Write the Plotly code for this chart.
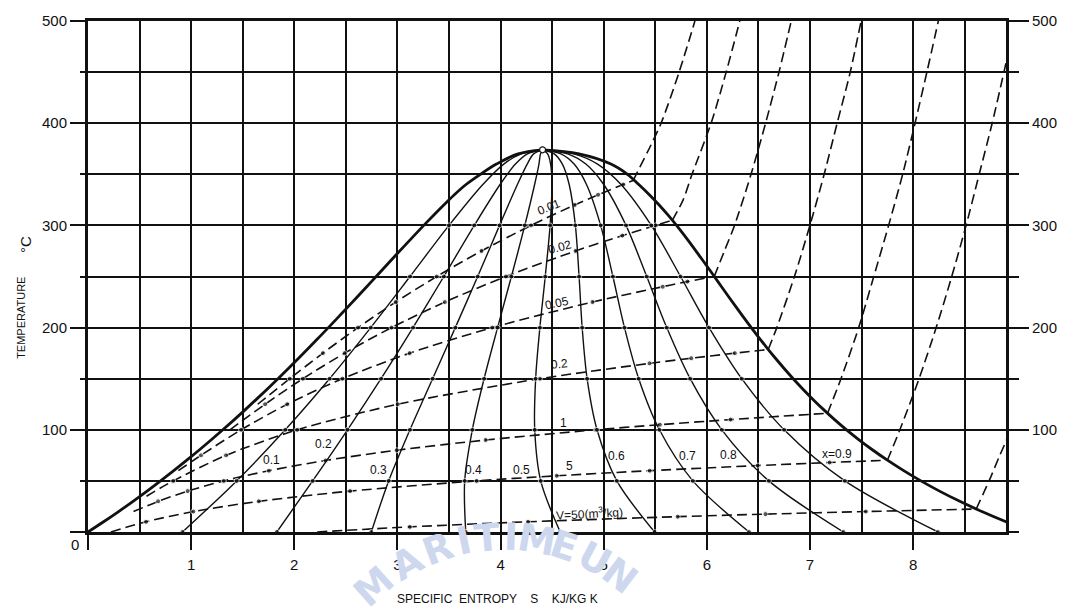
import math
import plotly.graph_objects as go

# ---------------- saturation dome (T in degC, s in kJ/kg K) ----------------
T_sat = [0.01, 10, 20, 30, 40, 50, 60, 70, 80, 90, 100, 110, 120, 130, 140, 150,
         160, 170, 180, 190, 200, 210, 220, 230, 240, 250, 260, 270, 280, 290,
         300, 310, 320, 330, 340, 350, 360, 370, 373.95]
s_liq = [0.0, 0.1511, 0.2965, 0.4368, 0.5724, 0.7038, 0.8313, 0.9551, 1.0756,
         1.1929, 1.3072, 1.4188, 1.5279, 1.6346, 1.7392, 1.8418, 1.9426, 2.0417,
         2.1392, 2.2355, 2.3305, 2.4245, 2.5177, 2.6101, 2.7020, 2.7935, 2.8849,
         2.9765, 3.0685, 3.1612, 3.2552, 3.3510, 3.4494, 3.5518, 3.6650, 3.8050,
         3.9600, 4.1700, 4.4070]
s_vap = [9.1555, 8.8998, 8.6661, 8.4520, 8.2555, 8.0748, 7.9081, 7.7540, 7.6111,
         7.4781, 7.3541, 7.2381, 7.1291, 7.0264, 6.9293, 6.8371, 6.7491, 6.6650,
         6.5840, 6.5059, 6.4302, 6.3563, 6.2840, 6.2128, 6.1423, 6.0721, 6.0016,
         5.9297, 5.8579, 5.7834, 5.7059, 5.6244, 5.5372, 5.4422, 5.3400, 5.2300,
         5.0700, 4.7600, 4.4070]

# ---------------- constant dryness fraction lines ----------------
T_q = [0, 50, 100, 150, 200, 250, 300, 340, 360, 370, 373.95]
q_01 = [0.916, 1.441, 1.912, 2.342, 2.741, 3.122, 3.500, 3.828, 4.031, 4.200, 4.407]
q_02 = [1.831, 2.178, 2.516, 2.841, 3.151, 3.450, 3.745, 3.995, 4.144, 4.260, 4.407]
q_03 = [2.747, 2.915, 3.121, 3.341, 3.561, 3.778, 3.990, 4.163, 4.258, 4.320, 4.407]
q_04 = [3.662, 3.652, 3.726, 3.840, 3.971, 4.105, 4.235, 4.330, 4.372, 4.387, 4.407]
q_05 = [4.578, 4.389, 4.331, 4.340, 4.381, 4.433, 4.480, 4.498, 4.485, 4.456, 4.407]
q_06 = [5.493, 5.127, 4.935, 4.839, 4.791, 4.761, 4.725, 4.665, 4.599, 4.520, 4.407]
q_07 = [6.409, 5.864, 5.540, 5.339, 5.201, 5.089, 4.970, 4.833, 4.713, 4.585, 4.407]
q_08 = [7.324, 6.601, 6.145, 5.838, 5.611, 5.417, 5.216, 5.000, 4.827, 4.650, 4.407]
q_09 = [8.240, 7.338, 6.749, 6.338, 6.021, 5.745, 5.461, 5.168, 4.940, 4.710, 4.407]
quality_lines = [q_01, q_02, q_03, q_04, q_05, q_06, q_07, q_08, q_09]

# ---------------- constant specific volume lines (m3/kg) ----------------
# wet region (inside the dome) and superheated region
v001_wet_T = [125, 150, 175, 200, 225, 250, 275, 300, 320, 330, 340, 344]
v001_wet_s = [1.645, 1.956, 2.277, 2.618, 2.983, 3.381, 3.815, 4.295, 4.718, 4.946, 5.189, 5.286]
v001_sup_T = [344, 350, 375, 400, 450, 500]
v001_sup_s = [5.286, 5.315, 5.44, 5.556, 5.731, 5.884]

v002_wet_T = [100, 125, 150, 175, 200, 225, 250, 275, 290, 300, 305]
v002_wet_s = [1.376, 1.717, 2.083, 2.488, 2.943, 3.460, 4.052, 4.727, 5.180, 5.504, 5.665]
v002_sup_T = [305, 325, 350, 400, 450, 500]
v002_sup_s = [5.665, 5.77, 5.856, 6.041, 6.187, 6.319]

v005_wet_T = [60, 75, 100, 125, 150, 175, 200, 225, 240, 245, 250.1]
v005_wet_s = [0.876, 1.095, 1.484, 1.931, 2.466, 3.118, 3.919, 4.891, 5.572, 5.811, 6.072]
v005_sup_T = [250.1, 275, 300, 350, 400, 450, 500]
v005_sup_s = [6.072, 6.17, 6.268, 6.428, 6.569, 6.699, 6.818]

v02_wet_T = [35, 50, 75, 100, 125, 150, 165, 170, 175, 178.6]
v02_wet_s = [0.567, 0.826, 1.338, 2.027, 3.002, 4.381, 5.444, 5.849, 6.271, 6.595]
v02_sup_T = [178.6, 200, 250, 300, 350, 400, 450, 500]
v02_sup_s = [6.595, 6.678, 6.849, 6.999, 7.137, 7.263, 7.39, 7.495]

v1_wet_T = [20, 30, 40, 50, 60, 70, 80, 90, 100, 105, 110, 116.2]
v1_wet_s = [0.441, 0.680, 0.966, 1.316, 1.754, 2.303, 2.993, 3.855, 4.922, 5.544, 6.230, 7.170]
v1_sup_T = [116.2, 150, 200, 250, 300, 350, 400, 450, 500]
v1_sup_s = [7.170, 7.300, 7.472, 7.618, 7.762, 7.898, 8.018, 8.133, 8.244]

v5_wet_T = [0.01, 10, 20, 30, 40, 50, 55, 60, 65, 68, 70.2]
v5_wet_s = [0.222, 0.563, 1.021, 1.656, 2.541, 3.768, 4.544, 5.446, 6.493, 7.19, 7.75]
v5_sup_T = [70.2, 100, 150, 200, 250, 300, 350, 400, 450, 500]
v5_sup_s = [7.75, 7.871, 8.057, 8.223, 8.374, 8.513, 8.64, 8.766, 8.88, 8.99]

v50_wet_T = [0.01, 5, 10, 15, 17.5, 20, 22.5]
v50_wet_s = [2.222, 3.120, 4.266, 5.717, 6.568, 7.541, 8.611]
v50_sup_T = [22.5, 50, 75, 100]
v50_sup_s = [8.611, 8.736, 8.84, 8.95]

volume_lines = [
    (v001_wet_s, v001_wet_T, v001_sup_s, v001_sup_T),
    (v002_wet_s, v002_wet_T, v002_sup_s, v002_sup_T),
    (v005_wet_s, v005_wet_T, v005_sup_s, v005_sup_T),
    (v02_wet_s, v02_wet_T, v02_sup_s, v02_sup_T),
    (v1_wet_s, v1_wet_T, v1_sup_s, v1_sup_T),
    (v5_wet_s, v5_wet_T, v5_sup_s, v5_sup_T),
    (v50_wet_s, v50_wet_T, v50_sup_s, v50_sup_T),
]

# line labels (text, s, T, angle)
volume_labels = [("0.01", 4.47, 318, -22), ("0.02", 4.58, 279, -15),
                 ("0.05", 4.55, 224, -12), ("0.2", 4.57, 164, -5),
                 ("1", 4.61, 107, 0), ("5", 4.67, 65, 0),
                 ("V=50(m<sup>3</sup>/kg)", 4.86, 19, -3)]
quality_labels = [("0.1", 1.78, 70), ("0.2", 2.28, 86), ("0.3", 2.82, 61),
                  ("0.4", 3.74, 61), ("0.5", 4.20, 61), ("0.6", 5.12, 74),
                  ("0.7", 5.81, 74), ("0.8", 6.21, 75), ("x=0.9", 7.26, 76)]

x_ticks = [0, 1, 2, 3, 4, 5, 6, 7, 8]
y_ticks = [0, 100, 200, 300, 400, 500]

INK = "#111111"
SANS = "Liberation Sans, Arial, sans-serif"
DASH = "10px,5px"

fig = go.Figure()

# constant volume lines (dashed)
for wet_s, wet_T, sup_s, sup_T in volume_lines:
    sizes = [0] + [5] * (len(wet_T) - 2) + [0]
    fig.add_trace(go.Scatter(x=wet_s, y=wet_T, mode="lines+markers",
                             line=dict(color=INK, width=1.6, dash=DASH, shape="spline", smoothing=0.8),
                             marker=dict(size=sizes, color=INK), hoverinfo="skip"))
    fig.add_trace(go.Scatter(x=sup_s, y=sup_T, mode="lines",
                             line=dict(color=INK, width=1.6, dash=DASH, shape="spline", smoothing=0.8),
                             hoverinfo="skip"))

# constant dryness fraction lines
q_sizes = [5 if (t % 50 == 0 and t < 360) else 0 for t in T_q]
for qs in quality_lines:
    fig.add_trace(go.Scatter(x=qs, y=T_q, mode="lines+markers",
                             line=dict(color=INK, width=1.4, shape="spline", smoothing=0.9),
                             marker=dict(size=q_sizes, color=INK), hoverinfo="skip"))

# saturation dome
fig.add_trace(go.Scatter(x=s_liq + s_vap[::-1], y=T_sat + T_sat[::-1], mode="lines",
                         line=dict(color=INK, width=2.8, shape="spline", smoothing=1.0),
                         hoverinfo="skip"))
# critical point
fig.add_trace(go.Scatter(x=[s_liq[-1]], y=[T_sat[-1]], mode="markers",
                         marker=dict(size=6, color="white", line=dict(color=INK, width=1.2)),
                         hoverinfo="skip"))
# right-hand temperature scale
fig.add_trace(go.Scatter(x=[None], y=[None], yaxis="y2", hoverinfo="skip"))

annotations = []

# faint seal lettering behind the axis title
L, R, T_, B = 88, 1013, 13, 532
def px_to_paper(px, py):
    return (px - L) / (R - L), (B - py) / (B - T_)

def paper_note(px, py, text, **kw):
    xp, yp = px_to_paper(px, py)
    d = dict(x=xp, y=yp, xref="paper", yref="paper", text=text, showarrow=False,
             xanchor="center", yanchor="middle")
    d.update(kw)
    return d

seal_letters = ["M", "A", "R", "I", "T", "I", "M", "E", "U", "N"]
seal_angles = [-42, -30, -20, -12, -5, 2, 10, 18, 28, 37]
for ch, ang in zip(seal_letters, seal_angles):
    a = math.radians(ang)
    cx, cy = 507 + 195 * math.sin(a), 732 - 195 * math.cos(a)
    annotations.append(paper_note(cx, cy, "<b>%s</b>" % ch, textangle=ang,
                                  font=dict(family="DejaVu Sans, sans-serif", size=38,
                                            color="#cdd7ee")))

for txt, s, t, ang in volume_labels:
    annotations.append(dict(x=s, y=t, xref="x", yref="y", text=txt, showarrow=False,
                            textangle=ang, font=dict(family=SANS, size=12, color=INK)))
for txt, s, t in quality_labels:
    annotations.append(dict(x=s, y=t, xref="x", yref="y", text=txt, showarrow=False,
                            font=dict(family=SANS, size=12, color=INK)))

# axis titles
NB = "\u00a0"
annotations.append(paper_note(501, 600,
                              "SPECIFIC" + NB * 2 + "ENTROPY" + NB * 4 + "S" + NB * 4 + "KJ/KG" + NB + "K",
                              font=dict(family=SANS, size=12, color=INK)))
annotations.append(paper_note(21, 315, "TEMPERATURE", textangle=-90,
                              font=dict(family=SANS, size=11, color=INK)))
annotations.append(paper_note(25, 240, "°C", textangle=-90,
                              font=dict(family=SANS, size=15, color=INK)))
annotations.append(paper_note(75, 545, "0", font=dict(family=SANS, size=15, color=INK)))

tick_font = dict(family=SANS, size=15, color=INK)

fig.update_layout(
    width=1069, height=614,
    margin=dict(l=88, r=56, t=13, b=82),
    paper_bgcolor="white", plot_bgcolor="white",
    showlegend=False,
    annotations=annotations,
    xaxis=dict(range=[0, 8.9], tickmode="array", tickvals=x_ticks,
               ticktext=["" if v == 0 else str(v) for v in x_ticks],
               ticks="outside", ticklen=15, tickwidth=2, tickcolor=INK,
               ticklabelstandoff=2, tickfont=tick_font,
               showgrid=True, gridcolor=INK, gridwidth=2,
               minor=dict(tickmode="linear", tick0=0, dtick=0.5, showgrid=True,
                          gridcolor=INK, gridwidth=2, ticks=""),
               showline=True, linewidth=3, linecolor=INK, mirror=True, zeroline=False,
               fixedrange=True),
    yaxis=dict(range=[0, 500], tickmode="array", tickvals=y_ticks,
               ticktext=["" if v == 0 else str(v) for v in y_ticks],
               ticks="outside", ticklen=15, tickwidth=2, tickcolor=INK,
               tickfont=tick_font,
               showgrid=True, gridcolor=INK, gridwidth=2,
               minor=dict(tickmode="linear", tick0=0, dtick=50, showgrid=True,
                          gridcolor=INK, gridwidth=2, ticks="outside", ticklen=5,
                          tickwidth=2, tickcolor=INK),
               showline=True, linewidth=3, linecolor=INK, mirror=True, zeroline=False,
               fixedrange=True),
    yaxis2=dict(range=[0, 500], overlaying="y", side="right", tickmode="array",
                tickvals=y_ticks[1:], ticktext=[str(v) for v in y_ticks[1:]],
                ticks="outside", ticklen=20, tickwidth=2, tickcolor=INK,
                tickfont=tick_font, showgrid=False, zeroline=False,
                minor=dict(tickmode="linear", tick0=0, dtick=50, ticks="outside",
                           ticklen=10, tickwidth=2, tickcolor=INK, showgrid=False),
                showline=True, linewidth=3, linecolor=INK, fixedrange=True),
)

fig.write_html("out.html")
